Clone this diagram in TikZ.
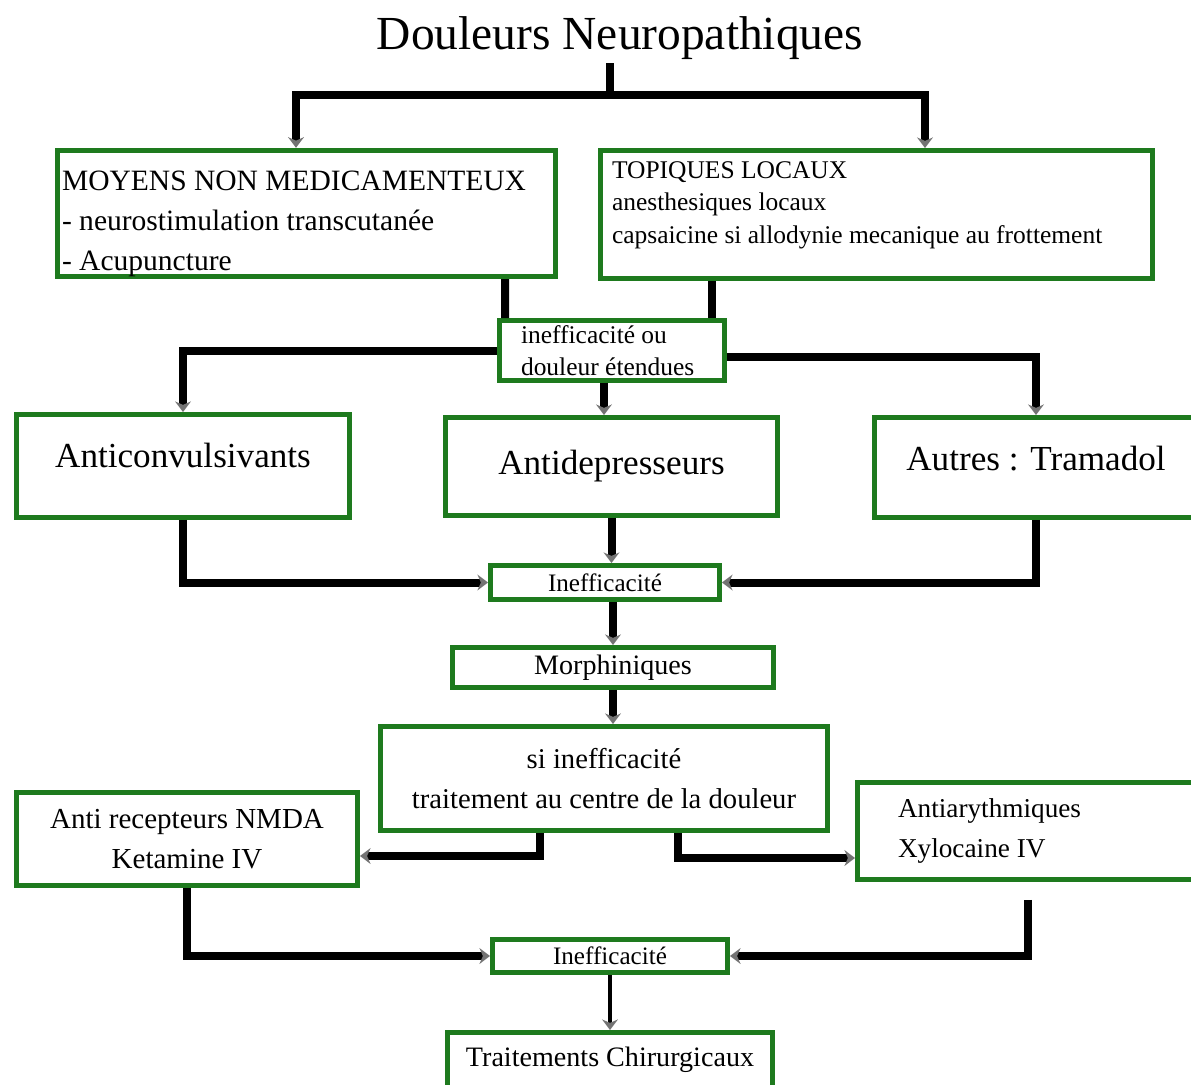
\documentclass[tikz,border=0pt]{standalone}
\usepackage{fontspec}
\setmainfont{Liberation Serif}
\usetikzlibrary{arrows.meta,calc}
\definecolor{boxgreen}{RGB}{30,122,30}
\tikzset{
  box/.style={draw=boxgreen, line width=0.1cm, fill=white, inner sep=0pt},
  flow/.style={line width=0.16cm, black},
  flowarrow/.style={flow, -{Stealth[length=6pt,width=9pt,color=black!55]}},
}
\begin{document}
\begin{tikzpicture}[x=0.02cm, y=-0.02cm]
\useasboundingbox (0,0) rectangle (1191,1085);

\node[inner sep=2pt, font=\fontsize{27}{30}\selectfont] (title) at (620,38) {Douleurs Neuropathiques};

\node[box, minimum width=9.96cm, minimum height=2.52cm, text width=9.78cm, inner xsep=0.09cm, align=flush left, text height=23pt, font=\fontsize{16.8}{22.7}\selectfont] (moyens) at (306.5,213.5) {MOYENS NON MEDICAMENTEUX\\- neurostimulation transcutanée\\- Acupuncture};
\node[box, minimum width=11.04cm, minimum height=2.56cm, text width=10.58cm, inner xsep=0.23cm, align=flush left, text depth=51pt, font=\fontsize{14.5}{18.7}\selectfont] (topiques) at (876.5,214.5) {TOPIQUES LOCAUX\\anesthesiques locaux\\capsaicine si allodynie mecanique au frottement};
\node[box, minimum width=4.5cm, minimum height=1.2cm, text width=3.64cm, inner xsep=0.43cm, align=flush left, font=\fontsize{14.5}{18}\selectfont] (ineff1) at (612,350.5) {inefficacité ou\\douleur étendues};

\node[box, minimum width=6.66cm, minimum height=2.06cm, text depth=12.5pt, font=\fontsize{20}{24}\selectfont] (anticonv) at (183,466) {Anticonvulsivants};
\node[box, minimum width=6.64cm, minimum height=1.96cm, font=\fontsize{20}{24}\selectfont] (antidep) at (611.5,466.5) {Antidepresseurs};
\node[box, minimum width=6.46cm, minimum height=2.0cm, text depth=10.2pt, font=\fontsize{20}{24}\selectfont] (autres) at (1036,467.5) {Autres : Tramadol};

\node[box, minimum width=4.58cm, minimum height=0.68cm, font=\fontsize{14.3}{17}\selectfont] (ineff2) at (605,582.5) {Inefficacité};
\node[box, minimum width=6.42cm, minimum height=0.8cm, font=\fontsize{16}{19}\selectfont] (morph) at (613,667.5) {Morphiniques};
\node[box, minimum width=8.94cm, minimum height=2.08cm, align=center, font=\fontsize{16.3}{22.7}\selectfont] (centre) at (604,778.5) {si inefficacité\\traitement au centre de la douleur};

\node[box, minimum width=6.82cm, minimum height=1.86cm, align=center, font=\fontsize{16.5}{22.7}\selectfont] (nmda) at (187,839) {Anti recepteurs NMDA\\Ketamine IV};
\node[box, minimum width=6.8cm, minimum height=1.94cm, text width=5.18cm, inner xsep=0.81cm, align=flush left, font=\fontsize{15.5}{22.7}\selectfont] (antiar) at (1027.5,831) {Antiarythmiques\\Xylocaine IV};

\node[box, minimum width=4.7cm, minimum height=0.66cm, font=\fontsize{14.3}{17}\selectfont] (ineff3) at (610,956) {Inefficacité};
\node[box, minimum width=6.5cm, minimum height=1.1cm, font=\fontsize{16}{19}\selectfont] (chir) at (610,1060) {Traitements Chirurgicaux};

\coordinate (split) at (610,95);
\draw[flow] (title.south -| split) -- (split);
\draw[flowarrow] (split) -| ($(moyens.north)+(-10.5,0)$);
\draw[flowarrow] (split) -| ($(topiques.north)+(48.5,0)$);

\draw[flow] ($(moyens.south)+(198.5,0)$) -- ($(ineff1.north)+(-107,0)$);
\draw[flow] ($(topiques.south)+(-164.5,0)$) -- ($(ineff1.north)+(100,0)$);

\draw[flowarrow] (ineff1.west) -| (anticonv.north);
\draw[flowarrow] ($(ineff1.east)+(0,6)$) -| (autres.north);
\draw[flowarrow] ($(ineff1.south)+(-8,0)$) -- ($(antidep.north)+(-7.5,0)$);

\draw[flowarrow] (anticonv.south) |- (ineff2.west);
\draw[flowarrow] (autres.south) |- (ineff2.east);
\draw[flowarrow] (antidep.south) -- (antidep.south |- ineff2.north);

\draw[flowarrow] (ineff2.south -| morph.north) -- (morph.north);
\draw[flowarrow] (morph.south) -- (morph.south |- centre.north);

\draw[flowarrow] ($(centre.south)+(-64,0)$) |- ($(nmda.east)+(0,17)$);
\draw[flowarrow] ($(centre.south)+(74,0)$) |- ($(antiar.west)+(0,27)$);

\draw[flowarrow] (nmda.south) |- (ineff3.west);
\draw[flowarrow] ($(antiar.south)+(0,18)$) |- (ineff3.east);
\draw[flowarrow, line width=0.08cm] (ineff3.south) -- (ineff3.south |- chir.north);

\end{tikzpicture}
\end{document}
